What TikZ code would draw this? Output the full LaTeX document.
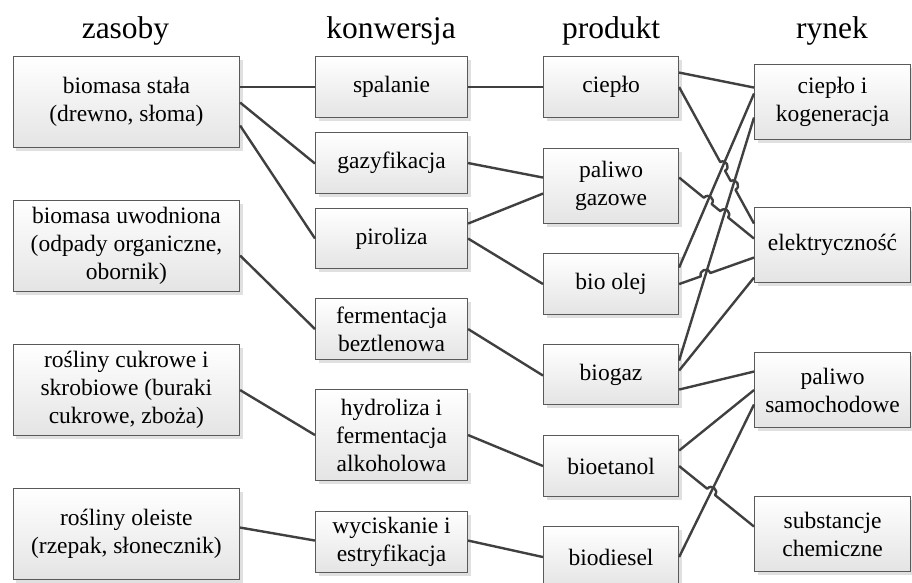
\documentclass[tikz,border=0pt]{standalone}
\usepackage{fontspec}
\setmainfont{Liberation Serif}
\usetikzlibrary{calc,intersections,shadows}

\definecolor{edge}{HTML}{404040}
\definecolor{frame}{HTML}{5A5A5A}
\definecolor{shade}{HTML}{E4E4E4}

\tikzset{
  box/.style={draw=frame, line width=1.1pt, top color=white, bottom color=shade,
    anchor=north west, align=center, inner sep=0pt,
    font=\fontsize{23.5}{28}\selectfont,
    drop shadow={shadow xshift=3pt, shadow yshift=-3pt, fill=black!12, opacity=1}},
  head/.style={anchor=base, inner sep=0pt, font=\fontsize{31.5}{36}\selectfont},
  conn/.style={draw=edge, line width=2.4pt, line join=round},
  % line hop over a crossing #1, on a connector running from #2 to #3
  hop/.style n args={3}{insert path={
    -- ($(#1)!5pt!(#2)$)
    .. controls ($($(#1)!5pt!(#2)$)!6.6pt!90:(#1)$)
           and ($($(#1)!5pt!(#3)$)!6.6pt!-90:(#1)$) ..
    ($(#1)!5pt!(#3)$)}},
}

\begin{document}
\begin{tikzpicture}[x=1pt, y=-1pt]
\useasboundingbox (0,0) rectangle (912,582);
\clip (0,0) rectangle (912,582);

% column headings
\node[head] (hz) at (125.5,38) {zasoby};
\node[head] (hk) at (391,38)   {konwersja};
\node[head] (hp) at (611,38)   {produkt};
\node[head] (hr) at (832,38)   {rynek};

% resources
\begin{scope}[every node/.append style={minimum width=226.3pt, minimum height=91pt}]
\node[box] (s1) at (12.7,56)  {biomasa stała\\(drewno, słoma)};
\node[box] (s2) at (12.7,200) {biomasa uwodniona\\(odpady organiczne,\\obornik)};
\node[box] (s3) at (12.7,344) {rośliny cukrowe i\\skrobiowe (buraki\\cukrowe, zboża)};
\node[box] (s4) at (12.7,488) {rośliny oleiste\\(rzepak, słonecznik)};
\end{scope}

% conversion
\begin{scope}[every node/.append style={minimum width=152pt, minimum height=61pt}]
\node[box] (k1) at (315,56)  {spalanie};
\node[box] (k2) at (315,132) {gazyfikacja};
\node[box, minimum height=60pt] (k3) at (315,208) {piroliza};
\node[box] (k4) at (315,298) {fermentacja\\beztlenowa};
\node[box, minimum height=91pt] (k5) at (315,389) {hydroliza i\\fermentacja\\alkoholowa};
\node[box] (k6) at (315,511) {wyciskanie i\\estryfikacja};
\end{scope}

% products
\begin{scope}[every node/.append style={minimum width=135pt, minimum height=61pt}]
\node[box] (p1) at (543,56)  {ciepło};
\node[box, minimum height=75pt] (p2) at (543,148) {paliwo\\gazowe};
\node[box] (p3) at (543,253) {bio olej};
\node[box, minimum height=60pt] (p4) at (543,344) {biogaz};
\node[box] (p5) at (543,435) {bioetanol};
\node[box] (p6) at (543,526) {biodiesel};
\end{scope}

% markets
\begin{scope}[every node/.append style={minimum width=156pt, minimum height=75pt}]
\node[box] (r1) at (754,64)  {ciepło i\\kogeneracja};
\node[box] (r2) at (754,207) {elektryczność};
\node[box] (r3) at (754,352) {paliwo\\samochodowe};
\node[box] (r4) at (754,496) {substancje\\chemiczne};
\end{scope}

% resources -> conversion
\draw[conn] ($(s1.east)+(0,-15)$) -- (k1.west);
\draw[conn] ($(s1.east)+(0,0.5)$) -- ($(k2.west)+(0,0.5)$);
\draw[conn] ($(s1.east)+(0,23.5)$) -- (k3.west);
\draw[conn] ($(s2.east)+(0,9.5)$) -- (k4.west);
\draw[conn] (s3.east) -- (k5.west);
\draw[conn] ($(s4.east)+(0,-6.5)$) -- ($(k6.west)+(0,-1.5)$);

% conversion -> products
\draw[conn] (k1.east) -- (p1.west);
\draw[conn] (k2.east) -- ($(p2.west)+(0,-8.5)$);
\draw[conn] ($(k3.east)+(0,-15)$) -- ($(p2.west)+(0,7.5)$);
\draw[conn] (k3.east) -- (p3.west);
\draw[conn] (k4.east) -- ($(p4.west)+(0,1)$);
\draw[conn] (k5.east) -- (p5.west);
\draw[conn] ($(k6.east)+(0,-1.5)$) -- (p6.west);

% products -> markets: steep connectors
\draw[conn, name path=st1] ($(p3.east)+(0,-16.5)$) -- ($(r1.west)+(0,-8.5)$);
\draw[conn, name path=st2] ($(p4.east)+(0,-14)$) -- ($(r1.west)+(0,15.5)$);
\draw[conn, name path=st3] ($(p4.east)+(0,-4)$) -- ($(r2.west)+(0,32.5)$);
\draw[conn, name path=st4] (p6.east) -- ($(r3.west)+(0,14.5)$);
\draw[conn] ($(p1.east)+(0,-14.5)$) -- ($(r1.west)+(0,-14.5)$);
\draw[conn] ($(p4.east)+(0,15)$) -- ($(r3.west)+(0,-18.5)$);
\draw[conn] ($(p5.east)+(0,-15.5)$) -- (r3.west);

% products -> markets: connectors hopping over the steep ones
\coordinate (h1a) at (p1.east);
\coordinate (h1b) at ($(r2.west)+(0,-21.5)$);
\coordinate (h2a) at ($(p2.east)+(0,-8.5)$);
\coordinate (h2b) at ($(r2.west)+(0,-6.5)$);
\coordinate (h3a) at (p3.east);
\coordinate (h3b) at ($(r2.west)+(0,12.5)$);
\coordinate (h4a) at (p5.east);
\coordinate (h4b) at ($(r4.west)+(0,-7.5)$);

\path[name path=ln1] (h1a) -- (h1b);
\path[name path=ln2] (h2a) -- (h2b);
\path[name path=ln3] (h3a) -- (h3b);
\path[name path=ln4] (h4a) -- (h4b);

\path[name intersections={of=ln1 and st1, by=x11}];
\path[name intersections={of=ln1 and st2, by=x12}];
\path[name intersections={of=ln2 and st1, by=x21}];
\path[name intersections={of=ln2 and st2, by=x22}];
\path[name intersections={of=ln3 and st2, by=x31}];
\path[name intersections={of=ln4 and st4, by=x41}];

\draw[conn] (h1a) [hop={x11}{h1a}{h1b}] [hop={x12}{h1a}{h1b}] -- (h1b);
\draw[conn] (h2a) [hop={x21}{h2a}{h2b}] [hop={x22}{h2a}{h2b}] -- (h2b);
\draw[conn] (h3a) [hop={x31}{h3a}{h3b}] -- (h3b);
\draw[conn] (h4a) [hop={x41}{h4a}{h4b}] -- (h4b);
\end{tikzpicture}
\end{document}
